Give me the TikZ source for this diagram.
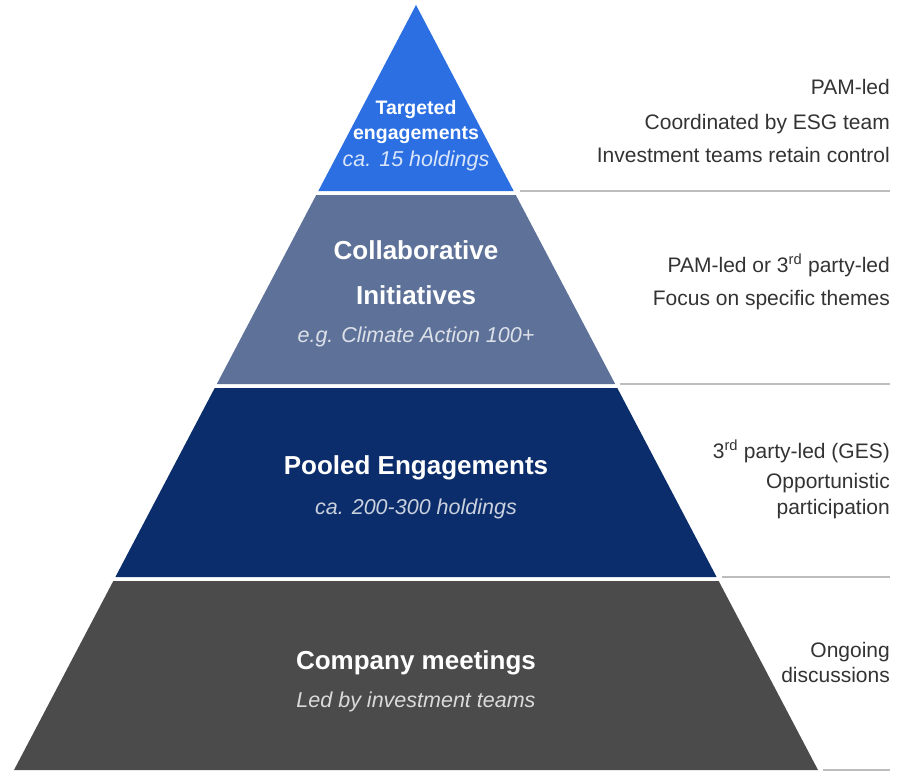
\documentclass[tikz,border=0pt]{standalone}
\usepackage{fontspec}
\setmainfont{Liberation Sans}
\definecolor{lay1}{HTML}{2B6FE3}
\definecolor{lay2}{HTML}{5E7299}
\definecolor{lay3}{HTML}{0C2D6B}
\definecolor{lay4}{HTML}{4B4B4B}
\definecolor{rtext}{HTML}{333333}
\definecolor{rule}{HTML}{BDBDBD}
\tikzset{
  band/.style={draw=none},
  hrule/.style={draw=rule, line width=1.5pt},
  side/.style={anchor=base east, text=rtext, font=\fontsize{21}{25}\selectfont, inner sep=0pt},
  bigt/.style={anchor=base, text=white, font=\bfseries\fontsize{26}{30}\selectfont, inner sep=0pt},
  smallt/.style={anchor=base, text=white, font=\bfseries\fontsize{19.5}{23}\selectfont, inner sep=0pt},
  subt/.style={anchor=base, font=\itshape\fontsize{21.5}{25}\selectfont, inner sep=0pt},
}
\begin{document}
\begin{tikzpicture}[x=1pt,y=-1pt]
\useasboundingbox (0,0) rectangle (905,772);
% pyramid bands
\fill[lay1] (416,5) -- (513.7,191) -- (318.3,191) -- cycle;
\fill[lay2] (316.2,195) -- (515.8,195) -- (615.2,384) -- (216.8,384) -- cycle;
\fill[lay3] (214.7,388) -- (617.3,388) -- (716.6,577) -- (115.4,577) -- cycle;
\fill[lay4] (113.3,581) -- (718.7,581) -- (818.0,770) -- (14.0,770) -- cycle;
% rules
\draw[hrule] (520,191) -- (890,191);
\draw[hrule] (620,384) -- (890,384);
\draw[hrule] (722,577) -- (890,577);
\draw[hrule] (823,770) -- (890,770);
% band texts
\node[smallt] (t1a) at (416,114) {Targeted};
\node[smallt] (t1b) at (416,139) {engagements};
\node[subt, text=white!82!lay1] (t1c) at (416,166) {ca. 15 holdings};
\node[bigt] (t2a) at (416,259.4) {Collaborative};
\node[bigt] (t2b) at (416,304.4) {Initiatives};
\node[subt, text=white!78!lay2] (t2c) at (416,342.7) {e.g. Climate Action 100+};
\node[bigt] (t3a) at (416,474.4) {Pooled Engagements};
\node[subt, text=white!78!lay3] (t3b) at (416,514.7) {ca. 200-300 holdings};
\node[bigt] (t4a) at (416,669.4) {Company meetings};
\node[subt, text=white!80!lay4] (t4b) at (416,707.7) {Led by investment teams};
% side texts
\node[side] (s1a) at (890,94.5) {PAM-led};
\node[side] (s1b) at (890,129.5) {Coordinated by ESG team};
\node[side] (s1c) at (890,162.5) {Investment teams retain control};
\node[side] (s2a) at (890,272.5) {PAM-led or 3\textsuperscript{rd} party-led};
\node[side] (s2b) at (890,305.5) {Focus on specific themes};
\node[side] (s3a) at (890,458) {3\textsuperscript{rd} party-led (GES)};
\node[side] (s3b) at (890,488) {Opportunistic};
\node[side] (s3c) at (890,514) {participation};
\node[side] (s4a) at (890,657) {Ongoing};
\node[side] (s4b) at (890,682) {discussions};
\end{tikzpicture}
\end{document}
